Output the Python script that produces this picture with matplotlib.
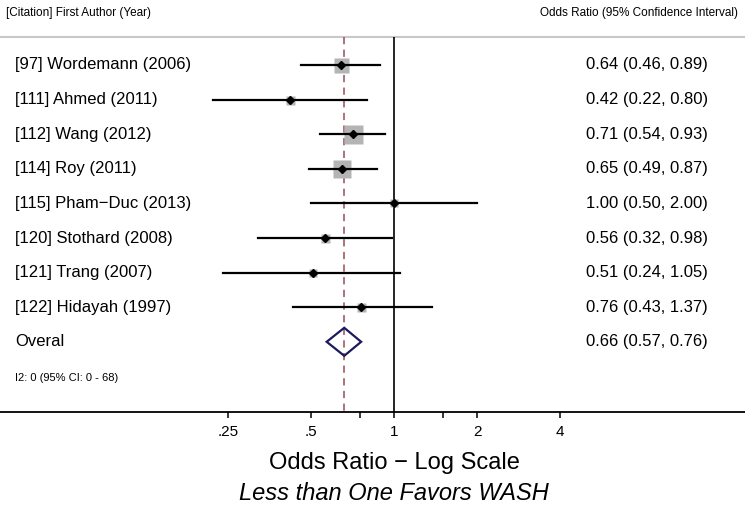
import numpy as np
import matplotlib
matplotlib.use("Agg")
import matplotlib.pyplot as plt

# study data
studies = ["[97] Wordemann (2006)", "[111] Ahmed (2011)", "[112] Wang (2012)",
           "[114] Roy (2011)", "[115] Pham\u2212Duc (2013)", "[120] Stothard (2008)",
           "[121] Trang (2007)", "[122] Hidayah (1997)"]
odds = [0.64, 0.42, 0.71, 0.65, 1.00, 0.56, 0.51, 0.76]
lower = [0.46, 0.22, 0.54, 0.49, 0.50, 0.32, 0.24, 0.43]
upper = [0.89, 0.80, 0.93, 0.87, 2.00, 0.98, 1.05, 1.37]
weights = [15, 9, 19, 18, 8, 9, 8, 9]  # relative box size
overall = (0.66, 0.57, 0.76)
i2_text = "I2: 0 (95% CI: 0 - 68)"
ticks = [0.25, 0.5, 1, 2, 4]
tick_labels = [".25", ".5", "1", "2", "4"]
minor_ticks = [0.75, 1.5]

W, H = 745, 513
fig = plt.figure(figsize=(W / 100, H / 100), dpi=100)
ax = fig.add_axes([0, 0, 1, 1])
ax.set_xscale("log", base=2)
px = 83.0  # pixels per doubling
x0 = 394.0
ax.set_xlim(2 ** (-x0 / px), 2 ** ((W - x0) / px))
ax.set_ylim(H, 0)
ax.axis("off")

sans = ["Liberation Sans", "DejaVu Sans"]
narrow = ["Liberation Sans Narrow", "Liberation Sans", "DejaVu Sans"]

top_y, axis_y = 37, 412
row0, dy = 65, 34.6
rows = [row0 + i * dy for i in range(len(studies) + 1)]

tr_x = ax.get_yaxis_transform()  # x in axes fraction, y in data
ax.plot([0, 1], [top_y, top_y], color="#c8c8c8", lw=1.5, transform=tr_x)
ax.plot([0, 1], [axis_y, axis_y], color="black", lw=1.3, transform=tr_x)

ax.vlines(1, top_y, axis_y, color="black", lw=1.2)
ax.vlines(overall[0], top_y, axis_y, color="#a5676f", lw=1.3, linestyles=(0, (4, 3)))

for i, y in enumerate(rows[:-1]):
    ax.plot([lower[i], upper[i]], [y, y], color="black", lw=1.6, zorder=3)
    ax.plot(odds[i], y, marker="s", ms=weights[i] * 0.72, color="#b4b4b4",
            mec="none", zorder=2)
    ax.plot(odds[i], y, marker="D", ms=4, color="black", zorder=4)
    ax.text(15 / W, y, studies[i], transform=tr_x, ha="left", va="center",
            fontsize=12, family=sans)
    ax.text(586 / W, y, f"{odds[i]:.2f} ({lower[i]:.2f}, {upper[i]:.2f})",
            transform=tr_x, ha="left", va="center", fontsize=12, family=sans)

yo = rows[-1]
est, lo, hi = overall
ax.fill([lo, est, hi, est, lo], [yo, yo - 14, yo, yo + 14, yo], facecolor="none",
        edgecolor="#1b1a5e", lw=1.6, zorder=3)
ax.text(15 / W, yo, "Overal", transform=tr_x, ha="left", va="center",
        fontsize=12, family=sans)
ax.text(586 / W, yo, f"{est:.2f} ({lo:.2f}, {hi:.2f})", transform=tr_x,
        ha="left", va="center", fontsize=12, family=sans)

ax.text(15 / W, 378, i2_text, transform=tr_x, ha="left", va="center",
        fontsize=8, family=narrow)
ax.text(6 / W, 13, "[Citation] First Author (Year)", transform=tr_x, ha="left",
        va="center", fontsize=8.5, family=narrow)
ax.text(738 / W, 13, "Odds Ratio (95% Confidence Interval)", transform=tr_x,
        ha="right", va="center", fontsize=8.5, family=narrow)

# x axis ticks
for t, lab in zip(ticks, tick_labels):
    ax.vlines(t, axis_y, axis_y + 6, color="black", lw=1.1)
    ax.text(t, 432, lab, ha="center", va="center", fontsize=11, family=sans)
for t in minor_ticks:
    ax.vlines(t, axis_y, axis_y + 6, color="black", lw=1.1)

ax.text(1, 463, "Odds Ratio \u2212 Log Scale", ha="center", va="center",
        fontsize=17, family=sans)
ax.text(1, 493, "Less than One Favors WASH", ha="center", va="center",
        fontsize=17, style="italic", family=sans)

fig.savefig("out.png", dpi=100)
